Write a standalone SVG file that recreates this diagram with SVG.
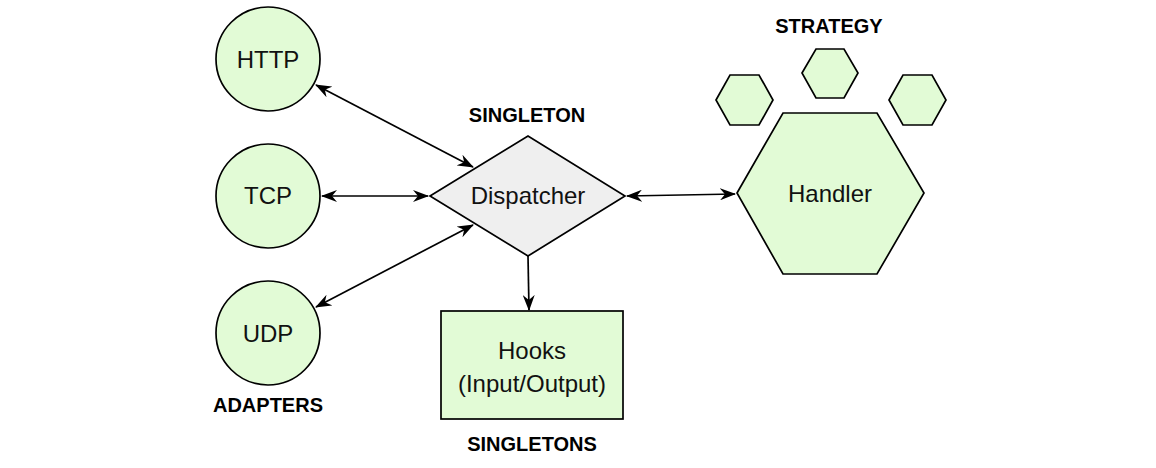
<svg xmlns="http://www.w3.org/2000/svg" width="1156" height="468" viewBox="0 0 1156 468">
<style>
.n{fill:#e2fbd6;stroke:#000;stroke-width:1.7}
.g{fill:#efefef;stroke:#000;stroke-width:1.7}
.t{font-family:"Liberation Sans",Arial,sans-serif;font-size:24px;fill:#111;text-anchor:middle}
.b{font-family:"Liberation Sans",Arial,sans-serif;font-size:20px;font-weight:bold;fill:#000;text-anchor:middle}
.c{fill:none;stroke:#000;stroke-width:1.7}
</style>
<defs>
<marker id="ah" viewBox="0 0 16 12" refX="15" refY="6" markerWidth="16" markerHeight="12" markerUnits="userSpaceOnUse" orient="auto-start-reverse">
<path d="M0,0 L16,6 L0,12 L5,6 Z" fill="#000"/>
</marker>
</defs>
<rect width="1156" height="468" fill="#fff"/>
<g id="connectors">
<line class="c" x1="316" y1="85" x2="473" y2="167" marker-start="url(#ah)" marker-end="url(#ah)"/>
<line class="c" x1="322" y1="196" x2="428" y2="196" marker-start="url(#ah)" marker-end="url(#ah)"/>
<line class="c" x1="316" y1="307" x2="473" y2="225" marker-start="url(#ah)" marker-end="url(#ah)"/>
<line class="c" x1="627" y1="196" x2="735" y2="194" marker-start="url(#ah)" marker-end="url(#ah)"/>
<line class="c" x1="528" y1="256" x2="529" y2="310" marker-end="url(#ah)"/>
</g>
<g id="http"><circle class="n" cx="268" cy="59" r="52"/><text class="t" x="268" y="68">HTTP</text></g>
<g id="tcp"><circle class="n" cx="268" cy="196" r="52"/><text class="t" x="268" y="204">TCP</text></g>
<g id="udp"><circle class="n" cx="268" cy="333" r="52"/><text class="t" x="268" y="342">UDP</text></g>
<g id="adapters-label"><text class="b" x="268" y="412">ADAPTERS</text></g>
<g id="dispatcher"><polygon class="g" points="430,196 528,136 625,196 528,256"/><text class="t" x="528" y="204">Dispatcher</text></g>
<g id="singleton-label"><text class="b" x="527" y="122">SINGLETON</text></g>
<g id="hooks"><rect class="n" x="441" y="311" width="182" height="108"/><text class="t" x="532" y="359">Hooks</text><text class="t" x="532" y="392">(Input/Output)</text></g>
<g id="singletons-label"><text class="b" x="532" y="451">SINGLETONS</text></g>
<g id="handler"><polygon class="n" points="737,193 783,113 877,113 924,193 877,274 783,274"/><text class="t" x="830" y="202">Handler</text></g>
<g id="strategy1"><polygon class="n" points="716,100 730,75 759,75 773,100 759,125 730,125"/></g>
<g id="strategy2"><polygon class="n" points="802,73 816,49 844,49 858,73 844,98 816,98"/></g>
<g id="strategy3"><polygon class="n" points="889,100 903,75 932,75 946,100 932,125 903,125"/></g>
<g id="strategy-label"><text class="b" x="829" y="33">STRATEGY</text></g>
</svg>
